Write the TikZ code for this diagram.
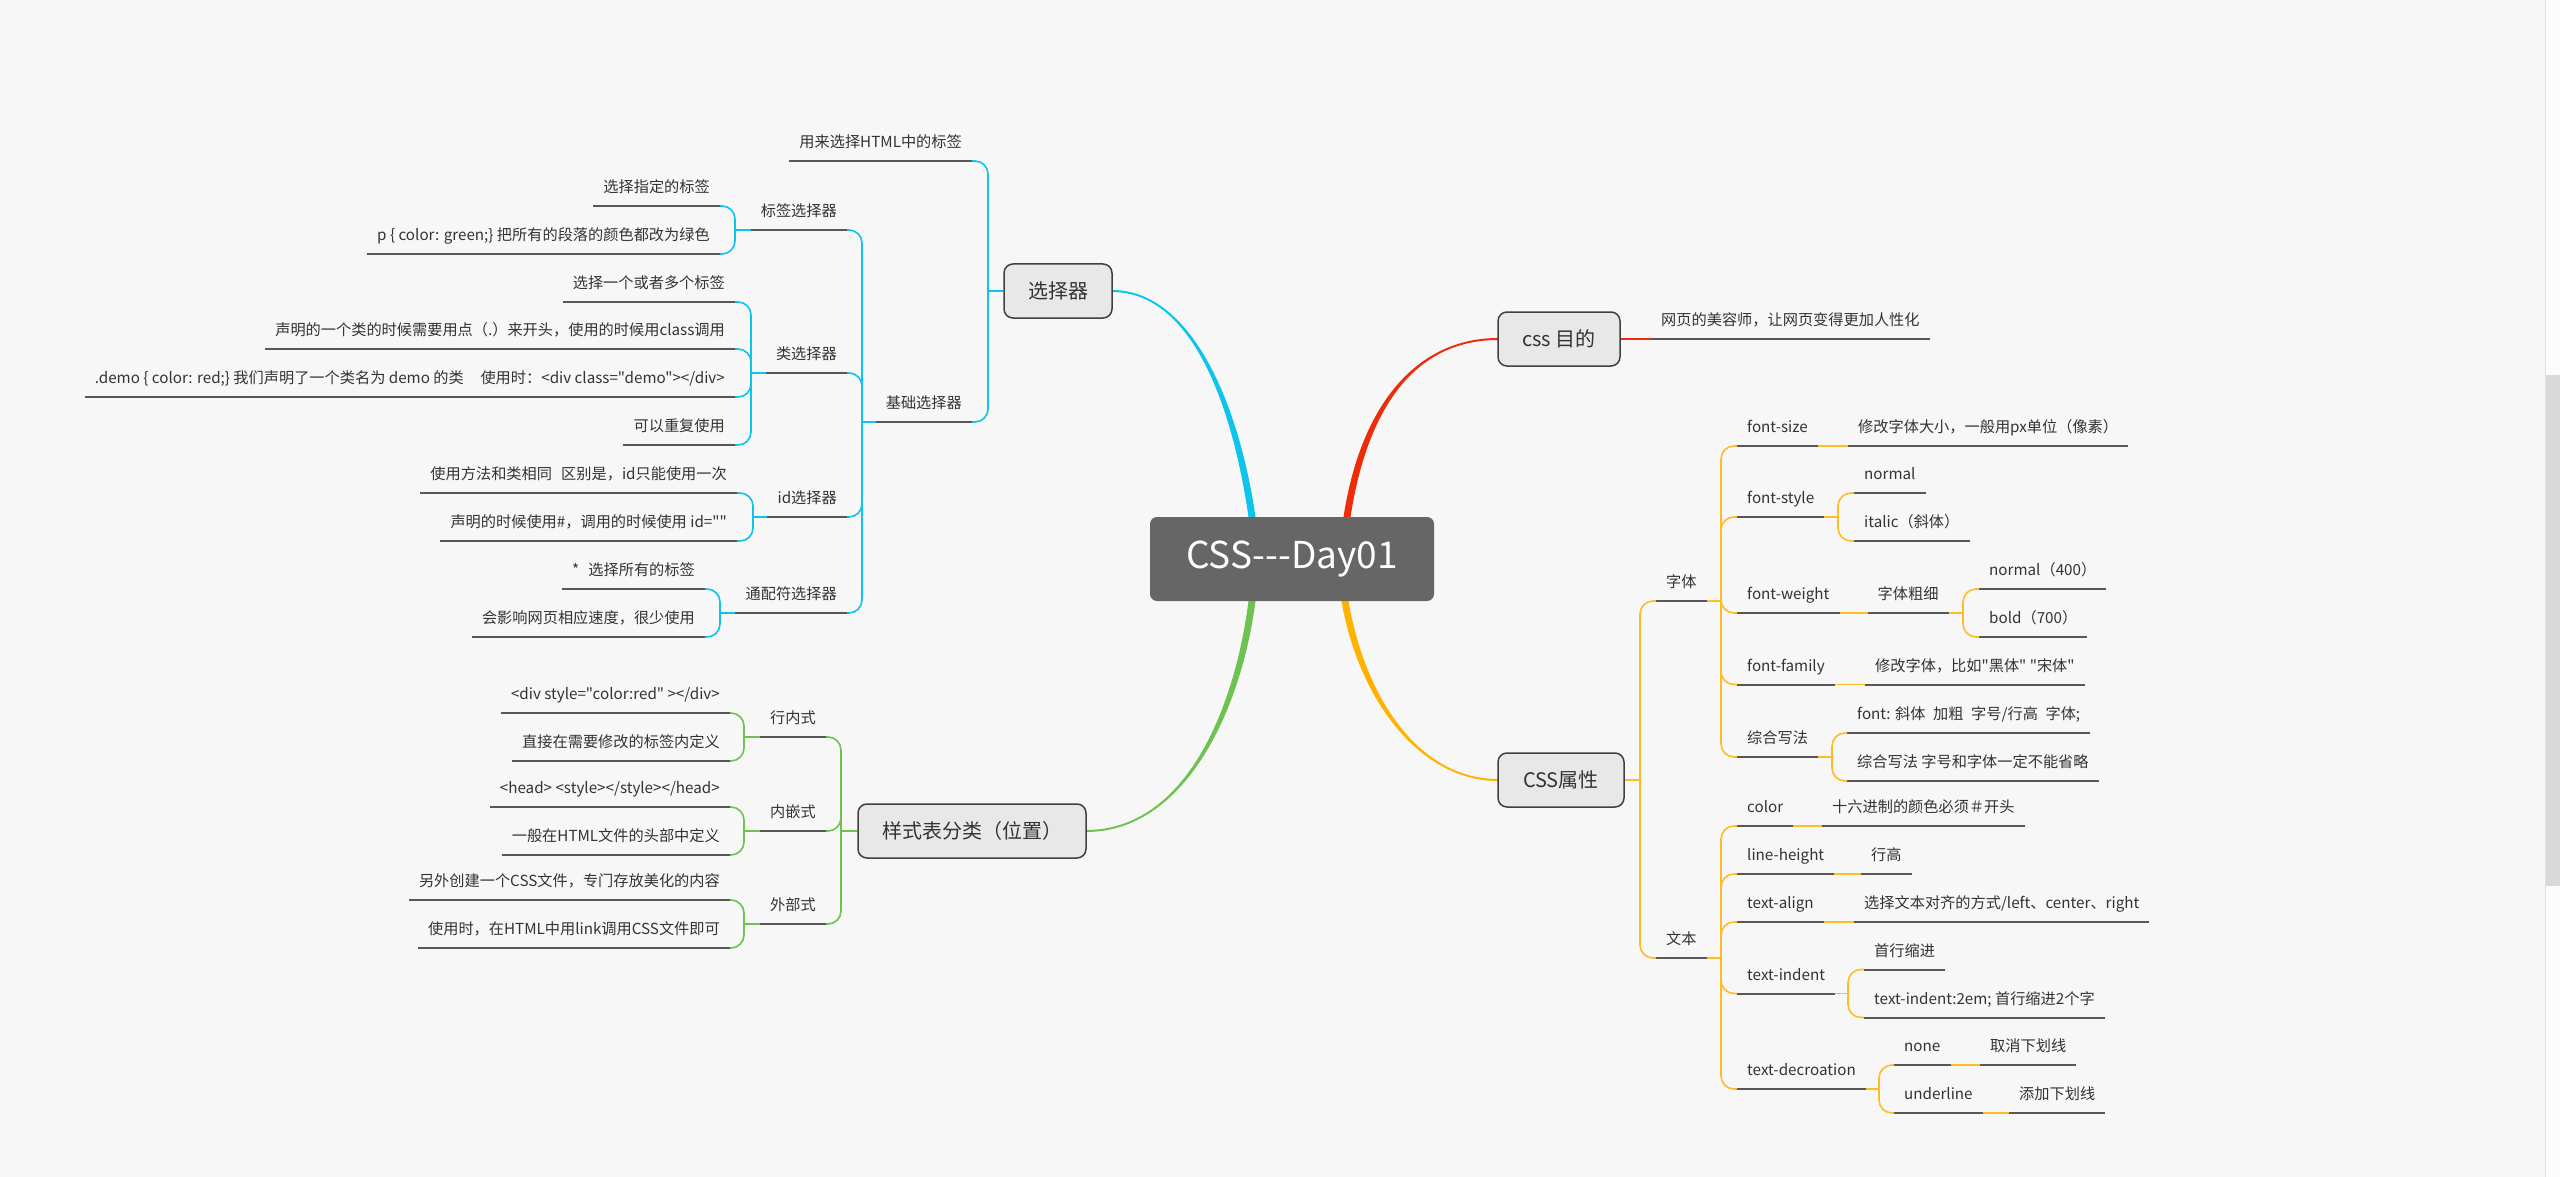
\documentclass[tikz,border=0pt]{standalone}
\usepackage{fontspec}
\newfontfamily\nf{Noto Sans CJK SC}
\definecolor{bgc}{RGB}{247,247,247}
\definecolor{cblue}{RGB}{12,196,236}
\definecolor{cred}{RGB}{238,44,10}
\definecolor{cgreen}{RGB}{110,195,80}
\definecolor{corange}{RGB}{255,178,0}
\definecolor{corl}{RGB}{255,188,36}
\definecolor{ulc}{RGB}{88,88,88}
\definecolor{txtc}{RGB}{51,51,51}
\definecolor{boxf}{RGB}{232,232,232}
\definecolor{boxb}{RGB}{64,64,64}
\definecolor{rootf}{RGB}{102,102,102}
\newcommand\myul[1]{\draw[ulsty] (#1.south west) -- (#1.south east);}
\begin{document}
\begin{tikzpicture}[x=1pt,y=-1pt,
  txt/.style={font=\nf\fontsize{15.2}{18}\selectfont, text=txtc, inner xsep=10pt, inner ysep=0pt, text height=12pt, text depth=13pt},
  tl/.style={txt, anchor=south east},
  tr/.style={txt, anchor=south west},
  ulsty/.style={draw=ulc, line width=2pt},
  box/.style={draw=boxb, fill=boxf, line width=1.5pt, rounded corners=9pt, font=\nf\fontsize{20}{24}\selectfont, text=txtc, minimum height=54pt, inner sep=0pt},
  rc/.style={rounded corners=13pt},
  cb/.style={draw=cblue, line width=1.6pt},
  cg/.style={draw=cgreen, line width=1.6pt},
  cr/.style={draw=cred, line width=1.6pt},
  co/.style={draw=corl, line width=1.6pt}]
\useasboundingbox (0,0) rectangle (2560,1177);
\fill[bgc] (0,0) rectangle (2560,1177);
% scrollbar
\fill[white!60!bgc] (2545,0) rectangle (2560,1177);
\draw[black!12, line width=1pt] (2545.5,0) -- (2545.5,1177);
\fill[black!15] (2546,375) rectangle (2560,886);

% main tapered branches
\fill[cblue] (1112,290) .. controls (1190,290) and (1238.5,400) .. (1255.5,517) -- (1248.5,517) .. controls (1231.5,400) and (1190,292) .. (1112,292) -- cycle;
\fill[cred] (1343.5,517) .. controls (1361.5,400) and (1420,338) .. (1498,338) -- (1498,340) .. controls (1420,340) and (1368.5,400) .. (1350.5,517) -- cycle;
\fill[cgreen] (1255.5,601) .. controls (1241.5,710) and (1185,832) .. (1086,832) -- (1086,830) .. controls (1185,830) and (1234.5,710) .. (1248.5,601) -- cycle;
\fill[corange] (1341.5,601) .. controls (1358.5,700) and (1420,781) .. (1498,781) -- (1498,779) .. controls (1420,779) and (1365.5,700) .. (1348.5,601) -- cycle;

% root
\node[fill=rootf, rounded corners=7pt, minimum width=284pt, minimum height=84pt, inner sep=0pt, text=white, font=\nf\fontsize{37}{44}\selectfont] (root) at (1292,559) {CSS-{}-{}-Day01};

% ===== blue: 选择器 =====
\node[box, minimum width=108pt] (sel) at (1058,291) {选择器};
\coordinate (tA) at (988,291);
\draw[cb] (sel.west) -- (tA);
\node[tl] (s1) at (972,161) {用来选择HTML中的标签}; \myul{s1}
\node[tl] (s2) at (972,422) {基础选择器}; \myul{s2}
\draw[cb,rc] (tA) |- (s1.south east);
\draw[cb,rc] (tA) |- (s2.south east);
\coordinate (tB) at (862,422);
\draw[cb] (s2.south west) -- (tB);
\node[tl] (s21) at (847,230) {标签选择器}; \myul{s21}
\node[tl] (s22) at (847,373) {类选择器}; \myul{s22}
\node[tl] (s23) at (847,517) {id选择器}; \myul{s23}
\node[tl] (s24) at (847,613) {通配符选择器}; \myul{s24}
\foreach \n in {s21,s22,s23,s24} {\draw[cb,rc] (tB) |- (\n.south east);}
% 标签选择器
\coordinate (t21) at (735,230);
\draw[cb] (s21.south west) -- (t21);
\node[tl] (s211) at (720,206) {选择指定的标签}; \myul{s211}
\node[tl] (s212) at (720,254) {p \{ color: green;\} 把所有的段落的颜色都改为绿色}; \myul{s212}
\foreach \n in {s211,s212} {\draw[cb,rc] (t21) |- (\n.south east);}
% 类选择器
\coordinate (t22) at (751,373);
\draw[cb] (s22.south west) -- (t22);
\node[tl] (s221) at (735,302) {选择一个或者多个标签}; \myul{s221}
\node[tl] (s222) at (735,349) {声明的一个类的时候需要用点（.）来开头，使用的时候用class调用}; \myul{s222}
\node[tl] (s223) at (735,397) {.demo \{ color: red;\} 我们声明了一个类名为 demo 的类\hspace{1.1em}使用时：<div class="demo"></div>}; \myul{s223}
\node[tl] (s224) at (735,445) {可以重复使用}; \myul{s224}
\foreach \n in {s221,s222,s223,s224} {\draw[cb,rc] (t22) |- (\n.south east);}
% id选择器
\coordinate (t23) at (753,517);
\draw[cb] (s23.south west) -- (t23);
\node[tl] (s231) at (737,493) {使用方法和类相同\hspace{0.6em}区别是，id只能使用一次}; \myul{s231}
\node[tl] (s232) at (737,541) {声明的时候使用\#，调用的时候使用 id=""}; \myul{s232}
\foreach \n in {s231,s232} {\draw[cb,rc] (t23) |- (\n.south east);}
% 通配符选择器
\coordinate (t24) at (720,613);
\draw[cb] (s24.south west) -- (t24);
\node[tl] (s241) at (705,589) {*\hspace{0.6em}选择所有的标签}; \myul{s241}
\node[tl] (s242) at (705,637) {会影响网页相应速度，很少使用}; \myul{s242}
\foreach \n in {s241,s242} {\draw[cb,rc] (t24) |- (\n.south east);}

% ===== green: 样式表分类 =====
\node[box, minimum width=228pt] (sty) at (972,831) {样式表分类（位置）};
\coordinate (tG) at (841,831);
\draw[cg] (sty.west) -- (tG);
\node[tl] (g1) at (826,737) {行内式}; \myul{g1}
\node[tl] (g2) at (826,831) {内嵌式}; \myul{g2}
\node[tl] (g3) at (826,924) {外部式}; \myul{g3}
\foreach \n in {g1,g2,g3} {\draw[cg,rc] (tG) |- (\n.south east);}
\coordinate (tg1) at (744,737);
\coordinate (tg2) at (744,831);
\coordinate (tg3) at (744,924);
\draw[cg] (g1.south west) -- (tg1);
\draw[cg] (g2.south west) -- (tg2);
\draw[cg] (g3.south west) -- (tg3);
\node[tl] (g11) at (730,713) {<div style="color:red" ></div>}; \myul{g11}
\node[tl] (g12) at (730,761) {直接在需要修改的标签内定义}; \myul{g12}
\node[tl] (g21) at (730,807) {<head> <style></style></head>}; \myul{g21}
\node[tl] (g22) at (730,855) {一般在HTML文件的头部中定义}; \myul{g22}
\node[tl] (g31) at (730,900) {另外创建一个CSS文件，专门存放美化的内容}; \myul{g31}
\node[tl] (g32) at (730,948) {使用时，在HTML中用link调用CSS文件即可}; \myul{g32}
\foreach \n in {g11,g12} {\draw[cg,rc] (tg1) |- (\n.south east);}
\foreach \n in {g21,g22} {\draw[cg,rc] (tg2) |- (\n.south east);}
\foreach \n in {g31,g32} {\draw[cg,rc] (tg3) |- (\n.south east);}

% ===== red: css 目的 =====
\node[box, minimum width=122pt] (pur) at (1559,339) {css 目的};
\node[tr] (r1) at (1651,339) {网页的美容师，让网页变得更加人性化}; \myul{r1}
\draw[cr] (pur.east) -- (r1.south west);

% ===== orange: CSS属性 =====
\node[box, minimum width=126pt] (att) at (1561,780) {CSS属性};
\coordinate (tO) at (1640,780);
\draw[co] (att.east) -- (tO);
\node[tr] (o1) at (1656,601) {字体}; \myul{o1}
\node[tr] (o2) at (1656,958) {文本}; \myul{o2}
\foreach \n in {o1,o2} {\draw[co,rc] (tO) |- (\n.south west);}
% 字体
\coordinate (to1) at (1721,601);
\draw[co] (o1.south east) -- (to1);
\node[tr] (o11) at (1737,446) {font-size}; \myul{o11}
\node[tr] (o12) at (1737,517) {font-style}; \myul{o12}
\node[tr] (o13) at (1737,613) {font-weight}; \myul{o13}
\node[tr] (o14) at (1737,684.5) {font-family}; \myul{o14}
\node[tr] (o15) at (1737,757) {综合写法}; \myul{o15}
\foreach \n in {o11,o12,o13,o14,o15} {\draw[co,rc] (to1) |- (\n.south west);}
\node[tr] (o111) at (1848,446) {修改字体大小，一般用px单位（像素）}; \myul{o111}
\draw[co] (o11.south east) -- (o111.south west);
\coordinate (to12) at (1838,517);
\draw[co] (o12.south east) -- (to12);
\node[tr] (o121) at (1854,493) {normal}; \myul{o121}
\node[tr] (o122) at (1854,541) {italic（斜体）}; \myul{o122}
\foreach \n in {o121,o122} {\draw[co,rc] (to12) |- (\n.south west);}
\node[tr] (o131) at (1867.5,613) {字体粗细}; \myul{o131}
\draw[co] (o13.south east) -- (o131.south west);
\coordinate (to131) at (1963,613);
\draw[co] (o131.south east) -- (to131);
\node[tr] (o1311) at (1979,589) {normal（400）}; \myul{o1311}
\node[tr] (o1312) at (1979,637) {bold（700）}; \myul{o1312}
\foreach \n in {o1311,o1312} {\draw[co,rc] (to131) |- (\n.south west);}
\node[tr] (o141) at (1865,684.5) {修改字体，比如"黑体" "宋体"}; \myul{o141}
\draw[co] (o14.south east) -- (o141.south west);
\coordinate (to15) at (1832,757);
\draw[co] (o15.south east) -- (to15);
\node[tr] (o151) at (1847,733) {font: 斜体\hspace{0.5em}加粗\hspace{0.5em}字号/行高\hspace{0.5em}字体;}; \myul{o151}
\node[tr] (o152) at (1847,781) {综合写法 字号和字体一定不能省略}; \myul{o152}
\foreach \n in {o151,o152} {\draw[co,rc] (to15) |- (\n.south west);}
% 文本
\coordinate (to2) at (1721,958);
\draw[co] (o2.south east) -- (to2);
\node[tr] (o21) at (1737,826) {color}; \myul{o21}
\node[tr] (o22) at (1737,874) {line-height}; \myul{o22}
\node[tr] (o23) at (1737,922) {text-align}; \myul{o23}
\node[tr] (o24) at (1737,993.5) {text-indent}; \myul{o24}
\node[tr] (o25) at (1737,1089) {text-decroation}; \myul{o25}
\foreach \n in {o21,o22,o23,o24,o25} {\draw[co,rc] (to2) |- (\n.south west);}
\node[tr] (o211) at (1822,826) {十六进制的颜色必须＃开头}; \myul{o211}
\draw[co] (o21.south east) -- (o211.south west);
\node[tr] (o221) at (1861,874) {行高}; \myul{o221}
\draw[co] (o22.south east) -- (o221.south west);
\node[tr] (o231) at (1854,922) {选择文本对齐的方式/left、center、right}; \myul{o231}
\draw[co] (o23.south east) -- (o231.south west);
\coordinate (to24) at (1848,993.5);
\draw[co] (o24.south east) -- (to24);
\node[tr] (o241) at (1864,969.5) {首行缩进}; \myul{o241}
\node[tr] (o242) at (1864,1017.5) {text-indent:2em; 首行缩进2个字}; \myul{o242}
\foreach \n in {o241,o242} {\draw[co,rc] (to24) |- (\n.south west);}
\coordinate (to25) at (1879,1089);
\draw[co] (o25.south east) -- (to25);
\node[tr] (o251) at (1894,1065) {none}; \myul{o251}
\node[tr] (o252) at (1894,1113) {underline}; \myul{o252}
\foreach \n in {o251,o252} {\draw[co,rc] (to25) |- (\n.south west);}
\node[tr] (o2511) at (1980,1065) {取消下划线}; \myul{o2511}
\draw[co] (o251.south east) -- (o2511.south west);
\node[tr] (o2521) at (2009,1113) {添加下划线}; \myul{o2521}
\draw[co] (o252.south east) -- (o2521.south west);
\end{tikzpicture}
\end{document}
